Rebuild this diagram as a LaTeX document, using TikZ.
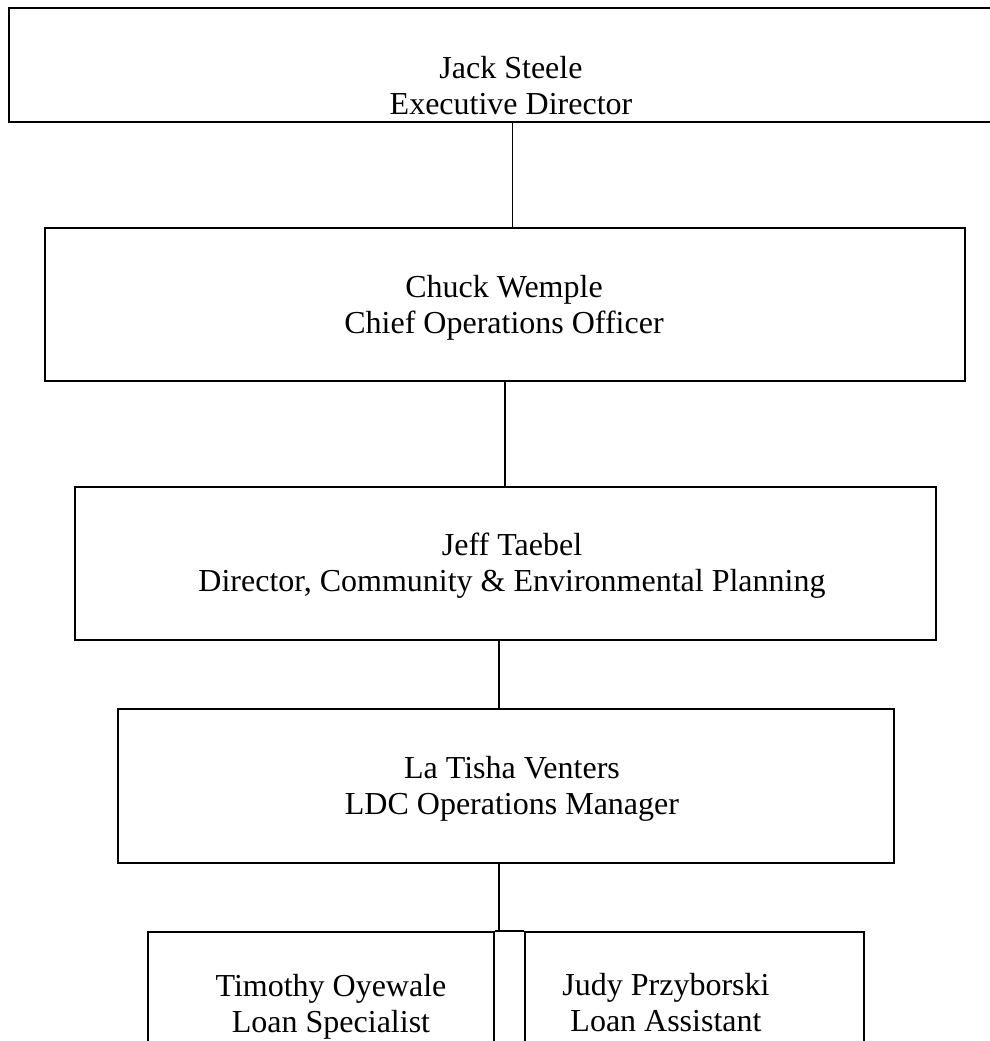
\documentclass[tikz,border=0pt]{standalone}
\usepackage{fontspec}
\setmainfont{Liberation Serif}
\begin{document}
\begin{tikzpicture}[x=1pt,y=-1pt,
  box/.style={draw, line width=1.9pt, rectangle, anchor=north west, inner sep=0pt},
  lbl/.style={align=center, font=\fontsize{32}{36}\selectfont, inner sep=0pt},
  conn/.style={line width=1.2pt}]
\useasboundingbox (0,0) rectangle (990,1041);
\clip (0,0) rectangle (990,1041);
\node[box, minimum width=1007pt, minimum height=114pt] (b1) at (8,7) {};
\node[box, minimum width=920pt, minimum height=153pt] (b2) at (44,227) {};
\node[box, minimum width=861pt, minimum height=153pt] (b3) at (74,486) {};
\node[box, minimum width=776pt, minimum height=154pt] (b4) at (117,708) {};
\node[box, minimum width=346pt, minimum height=200pt] (b5) at (147,931) {};
\node[box, minimum width=339pt, minimum height=200pt] (b6) at (524,931) {};

\node[lbl] (t1) at (511,86) {Jack Steele\\Executive Director};
\node[lbl] (t2) at (504,308) {Chuck Wemple\\Chief Operations Officer};
\node[lbl] (t3) at (512,566) {Jeff Taebel\\Director, Community \& Environmental Planning};
\node[lbl] (t4) at (512,789) {La Tisha Venters\\LDC Operations Manager};
\node[lbl] (t5) at (331,1007) {Timothy Oyewale\\Loan Specialist};
\node[lbl] (t6) at (666,1003) {Judy Przyborski\\Loan Assistant};

\draw[conn] (b1.south) -- (b1.south |- b2.north);
\draw[conn] (b2.south) -- (b2.south |- b3.north);
\draw[conn] ([xshift=-6.5pt]b3.south) -- ([xshift=-6.5pt]b3.south |- b4.north);
\draw[conn] ([xshift=-7pt]b4.south) -- ([xshift=-7pt]b4.south |- b5.north);
\draw[conn] (b5.north east) -- (b6.north west);
\end{tikzpicture}
\end{document}
